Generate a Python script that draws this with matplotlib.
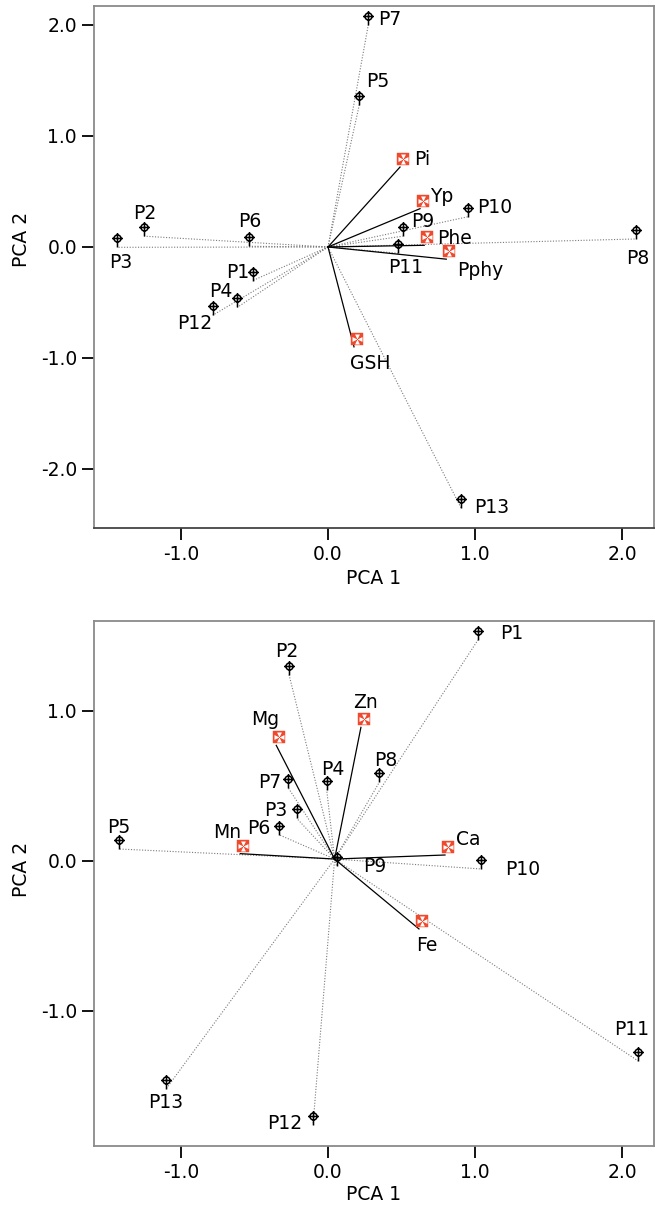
import matplotlib
matplotlib.use('Agg')
import matplotlib.pyplot as plt
from matplotlib.path import Path
import numpy as np

plt.rcParams['font.family'] = ['DejaVu Sans']
plt.rcParams['axes.unicode_minus'] = False

# ---------------- data: top panel ----------------
obs1_names = ['P1', 'P2', 'P3', 'P4', 'P5', 'P6', 'P7', 'P8', 'P9', 'P10', 'P11', 'P12', 'P13']
obs1_x = [-0.512, -1.25, -1.433, -0.617, 0.213, -0.537, 0.274, 2.095, 0.508, 0.955, 0.478, -0.784, 0.905]
obs1_y = [-0.303, 0.097, -0.003, -0.544, 1.28, 0.006, 2.0, 0.072, 0.097, 0.273, -0.057, -0.615, -2.35]
var1_names = ['Pi', 'Yp', 'Phe', 'Pphy', 'GSH']
var1_x = [0.49, 0.626, 0.655, 0.805, 0.177]
var1_y = [0.72, 0.345, 0.015, -0.11, -0.90]
origin1 = (0.0, 0.0)

# ---------------- data: bottom panel ----------------
obs2_names = ['P1', 'P2', 'P3', 'P4', 'P5', 'P6', 'P7', 'P8', 'P9', 'P10', 'P11', 'P12', 'P13']
obs2_x = [1.02, -0.265, -0.213, -0.009, -1.422, -0.333, -0.27, 0.349, 0.059, 1.04, 2.11, -0.102, -1.102]
obs2_y = [1.473, 1.242, 0.285, 0.475, 0.08, 0.175, 0.487, 0.525, -0.035, -0.053, -1.333, -1.76, -1.52]
var2_names = ['Zn', 'Mg', 'Mn', 'Ca', 'Fe']
var2_x = [0.224, -0.352, -0.597, 0.796, 0.619]
var2_y = [0.891, 0.771, 0.049, 0.04, -0.453]
origin2 = (0.045, 0.013)

xticks = [-1.0, 0.0, 1.0, 2.0]
yticks1 = [-2.0, -1.0, 0.0, 1.0, 2.0]
yticks2 = [-1.0, 0.0, 1.0]

# ---------------- label placement (pixel offsets, dy = down) ----------------
obs1_off = [(-3, -9, 'right'), (0, -24, 'center'), (3, 14, 'center'), (-4.6, -17, 'right'),
            (7, -25, 'left'), (1, -26, 'center'), (10, -6.4, 'left'), (2, 18, 'center'),
            (8, -15.6, 'left'), (9, -10.7, 'left'), (7.4, 13.4, 'center'), (-1, 6.7, 'right'),
            (13, -2, 'left')]
var1_off = [(14, -9, 'left'), (10, -13.7, 'left'), (12.7, -8, 'left'), (10.4, 9.7, 'left'),
            (16, 15, 'center')]
obs2_off = [(22, -8, 'left'), (-2, -24.7, 'center'), (-9.4, -9, 'right'), (6.6, -21.4, 'center'),
            (0, -23, 'center'), (-9, -8, 'right'), (-6.6, -7, 'right'), (6.5, -23, 'center'),
            (26, -1.3, 'left'), (24, -1, 'left'), (-6, -33, 'center'), (-11, -3, 'right'),
            (0, 12, 'center')]
var2_off = [(4.5, -26.3, 'center'), (-10.8, -27, 'center'), (-12.8, -22, 'center'),
            (11, -17, 'left'), (8, 15, 'center')]

PX = 0.72  # points per pixel at dpi 100
FS = 13.5
CAP_HALF = 6.8

# ---------------- markers ----------------
circ = Path.circle((0, 9), 3.5)
hline = Path([(-5.5, 9), (5.5, 9)], [Path.MOVETO, Path.LINETO])
vline = Path([(0, 14.5), (0, 0)], [Path.MOVETO, Path.LINETO])
obs_marker = Path.make_compound_path(circ, hline, vline)

sq_marker = Path([(-3, 2), (9, 2), (9, 14), (-3, 14), (-3, 2)], closed=True)
cx, cy, a, w = 3.0, 8.0, 5.0, 2.4
tri = []
codes = []
for (ex, ey, px_, py_) in [(0, a, w, 0), (0, -a, w, 0), (a, 0, 0, w), (-a, 0, 0, w)]:
    tri += [(cx, cy), (cx + ex - px_, cy + ey - py_), (cx + ex + px_, cy + ey + py_), (cx, cy)]
    codes += [Path.MOVETO, Path.LINETO, Path.LINETO, Path.CLOSEPOLY]
cross_marker = Path(tri, codes)


def ms_for(path):
    return 2 * PX * np.max(np.abs(path.vertices))


RED = '#EF4A2E'


def panel(ax, obs_n, obs_x, obs_y, var_n, var_x, var_y, origin, obs_off, var_off,
          ylim, yticks, ylab_y, xlab_y):
    ox, oy = origin
    for x, y in zip(obs_x, obs_y):
        ax.plot([ox, x], [oy, y], linestyle=(0, (1, 1.5)), color='#7a7a7a', lw=0.8, zorder=1)
    for x, y in zip(var_x, var_y):
        ax.plot([ox, x], [oy, y], linestyle='-', color='black', lw=0.9, zorder=2)
    ax.plot(obs_x, obs_y, linestyle='none', marker=obs_marker, ms=ms_for(obs_marker),
            mfc='none', mec='black', mew=1.1, zorder=3)
    ax.plot(var_x, var_y, linestyle='none', marker=sq_marker, ms=ms_for(sq_marker),
            mfc=RED, mec=RED, mew=0.3, zorder=3)
    ax.plot(var_x, var_y, linestyle='none', marker=cross_marker, ms=ms_for(cross_marker),
            mfc='white', mec='none', mew=0, zorder=4)
    for n, x, y, (dx, dy, ha) in zip(obs_n + var_n, list(obs_x) + list(var_x),
                                     list(obs_y) + list(var_y), obs_off + var_off):
        ax.annotate(n, (x, y), xytext=(dx * PX, -(dy + CAP_HALF) * PX), textcoords='offset points',
                    ha=ha, va='baseline', fontsize=FS, color='black', zorder=5)
    ax.set_xlim(-1.592, 2.218)
    ax.set_ylim(*ylim)
    ax.set_xticks(xticks)
    ax.set_yticks(yticks)
    ax.set_xticklabels(['%.1f' % t for t in xticks])
    ax.set_yticklabels(['%.1f' % t for t in yticks])
    ax.tick_params(direction='out', length=8.3, width=1.3, color='black', pad=4,
                   labelsize=FS)
    for s in ax.spines.values():
        s.set_color('#8a8a8a')
        s.set_linewidth(1.3)
    ax.set_xlabel('PCA 1', fontsize=FS)
    ax.set_ylabel('PCA 2', fontsize=FS)
    ax.yaxis.set_label_coords(-0.113, ylab_y)
    ax.xaxis.set_label_coords(0.5, xlab_y)


fig = plt.figure(figsize=(6.55, 12.10), dpi=100)
ax1 = fig.add_axes([94 / 655, (1210 - 528) / 1210, 560 / 655, 522 / 1210])
ax2 = fig.add_axes([94 / 655, (1210 - 1146) / 1210, 560 / 655, 525 / 1210])

panel(ax1, obs1_names, obs1_x, obs1_y, var1_names, var1_x, var1_y, origin1, obs1_off, var1_off,
      (-2.532, 2.171), yticks1, 0.552, -0.0785)
ax1.spines['bottom'].set_color('#444444')
panel(ax2, obs2_names, obs2_x, obs2_y, var2_names, var2_x, var2_y, origin2, obs2_off, var2_off,
      (-1.9, 1.6), yticks2, 0.526, -0.074)

fig.savefig('out.png', dpi=100)
